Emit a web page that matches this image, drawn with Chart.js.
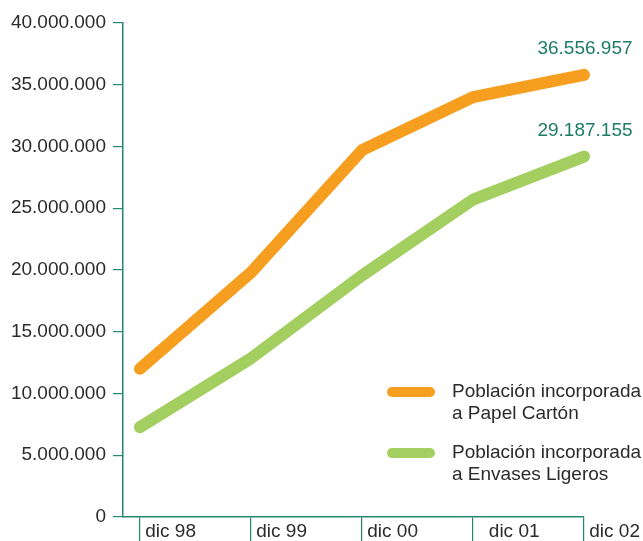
<!DOCTYPE html>
<html>
<head>
<meta charset="utf-8">
<script src="https://cdn.jsdelivr.net/npm/chart.js@4/dist/chart.umd.min.js"></script>
<style>
  html, body { margin: 0; padding: 0; background: #fff; }
  #wrap { width: 643px; height: 541px; }
</style>
</head>
<body>
<div id="wrap"><canvas id="grafico"></canvas></div>
<script>
// datos
const fechas = ["dic 98", "dic 99", "dic 00", "dic 01", "dic 02"];
const papelCarton = [12000000, 19800000, 29700000, 34000000, 35800000];
const envasesLigeros = [7270000, 12850000, 19560000, 25700000, 29187155];
const etiquetasFinales = ["36.556.957", "29.187.155"];
const nombresSeries = [
    ["Población incorporada", "a Papel Cartón"],
    ["Población incorporada", "a Envases Ligeros"]
];

const naranja = "#F69E1F";
const verde = "#A3CF61";
const verdeEje = "#24876F";
const fuente = "'Liberation Sans', Arial, sans-serif";

function formatoMiles(v) {
    return String(v).replace(/\B(?=(\d{3})+(?!\d))/g, ".");
}

// etiquetas al final de cada linea
const etiquetasPlugin = {
    id: "etiquetas",
    afterDatasetsDraw(chart) {
        const ctx = chart.ctx;
        ctx.save();
        ctx.font = "19px " + fuente;
        ctx.fillStyle = "#1E7C66";
        ctx.textAlign = "center";
        ctx.textBaseline = "middle";
        chart.data.datasets.forEach((ds, i) => {
            const meta = chart.getDatasetMeta(i);
            const p = meta.data[meta.data.length - 1];
            ctx.fillText(etiquetasFinales[i], p.x + 1, p.y - 26);
        });
        ctx.restore();
    }
};

// leyenda dibujada a mano
const leyendaPlugin = {
    id: "leyenda",
    afterDraw(chart) {
        const ctx = chart.ctx;
        const colores = [naranja, verde];
        ctx.save();
        ctx.font = "19px " + fuente;
        ctx.fillStyle = "#2b2b2b";
        ctx.textAlign = "left";
        ctx.textBaseline = "middle";
        for (let i = 0; i < nombresSeries.length; i++) {
            const y = 392 + i * 61;
            ctx.strokeStyle = colores[i];
            ctx.lineWidth = 10;
            ctx.lineCap = "round";
            ctx.beginPath();
            ctx.moveTo(392, y);
            ctx.lineTo(430, y);
            ctx.stroke();
            ctx.fillText(nombresSeries[i][0], 452, y);
            ctx.fillText(nombresSeries[i][1], 452, y + 22);
        }
        ctx.restore();
    }
};

const datos = {
    datasets: [
        {
            label: nombresSeries[0].join(" "),
            data: papelCarton.map((v, i) => ({ x: i, y: v })),
            borderColor: naranja,
            backgroundColor: naranja,
            clip: false
        },
        {
            label: nombresSeries[1].join(" "),
            data: envasesLigeros.map((v, i) => ({ x: i, y: v })),
            borderColor: verde,
            backgroundColor: verde,
            clip: false
        }
    ]
};

const config = {
    type: "line",
    data: datos,
    options: {
        responsive: true,
        maintainAspectRatio: false,
        animation: false,
        layout: { padding: { top: 23, right: 59, bottom: 0, left: 0 } },
        elements: {
            line: { borderWidth: 12, tension: 0, borderCapStyle: "round", borderJoinStyle: "round" },
            point: { radius: 0, hoverRadius: 0 }
        },
        plugins: {
            legend: { display: false },
            tooltip: { enabled: false }
        },
        scales: {
            x: {
                type: "linear",
                min: -0.153,
                max: 4,
                afterBuildTicks(scale) {
                    scale.ticks = fechas.map((f, i) => ({ value: i }));
                },
                afterFit(scale) {
                    scale.height = 24;
                    scale.paddingLeft = 0;
                    scale.paddingRight = 0;
                },
                border: { color: verdeEje, width: 1.5 },
                grid: { drawOnChartArea: false, drawTicks: true, tickLength: 24, color: verdeEje, lineWidth: 1.2 },
                ticks: {
                    align: "start",
                    maxRotation: 0,
                    autoSkip: false,
                    padding: -21,
                    color: "#2b2b2b",
                    font: { family: fuente, size: 19 },
                    callback: (v) => (v === 3 ? "   " : " ") + fechas[v]
                }
            },
            y: {
                min: 0,
                max: 40000000,
                afterFit(scale) {
                    scale.width = 123;
                    scale.paddingTop = 0;
                    scale.paddingBottom = 0;
                },
                border: { color: verdeEje, width: 1.5 },
                grid: { drawOnChartArea: false, drawTicks: true, tickLength: 10, color: verdeEje, lineWidth: 1.2 },
                ticks: {
                    stepSize: 5000000,
                    padding: 7,
                    color: "#2b2b2b",
                    font: { family: fuente, size: 19 },
                    callback: (v) => formatoMiles(v)
                }
            }
        }
    },
    plugins: [etiquetasPlugin, leyendaPlugin]
};

var grafico = new Chart(document.querySelector("#grafico"), config);
</script>
</body>
</html>
